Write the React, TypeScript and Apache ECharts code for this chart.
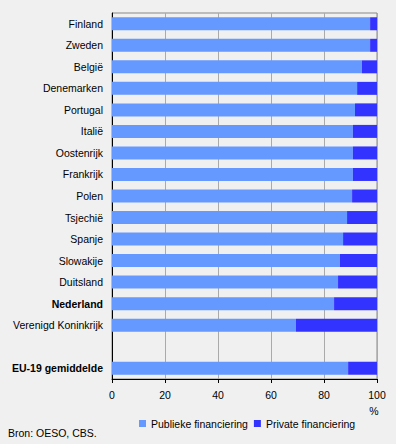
import React, { useEffect, useRef } from "react";
import * as echarts from "echarts";

const categories = [
  "Finland", "Zweden", "België", "Denemarken", "Portugal", "Italië", "Oostenrijk",
  "Frankrijk", "Polen", "Tsjechië", "Spanje", "Slowakije", "Duitsland", "Nederland",
  "Verenigd Koninkrijk", "", "EU-19 gemiddelde",
];
const publiek = [97.4, 97.4, 94.3, 92.5, 91.7, 90.9, 90.9, 90.9, 90.6, 88.7, 87.2, 86.0, 85.3, 83.8, 69.4, null, 89.1];
const privaat = [2.6, 2.6, 5.7, 7.5, 8.3, 9.1, 9.1, 9.1, 9.4, 11.3, 12.8, 14.0, 14.7, 16.2, 30.6, null, 10.9];
const boldLabels = ["Nederland", "EU-19 gemiddelde"];
const xTicks = { min: 0, max: 100, interval: 20 };

const FONT = "'Liberation Sans', Arial, sans-serif";
const FS = 10.5;

export default function App() {
  const ref = useRef<HTMLDivElement>(null);
  useEffect(() => {
    if (!ref.current) return;
    const chart = echarts.init(ref.current, null, { renderer: "svg" });
    chart.setOption({
      animation: false,
      backgroundColor: "#f0f0f0",
      textStyle: { fontFamily: FONT, fontSize: FS, color: "#000" },
      grid: {
        left: 112, right: 19, top: 13, bottom: 65,
        outerBoundsMode: "none",
        show: true, borderColor: "#888888", borderWidth: 1, backgroundColor: "transparent",
      },
      legend: {
        left: 134, top: 413,
        itemWidth: 7, itemHeight: 7, itemGap: 6,
        icon: "rect",
        textStyle: { fontFamily: FONT, fontSize: FS, color: "#000" },
        data: ["Publieke financiering", "Private financiering"],
      },
      xAxis: {
        type: "value",
        min: xTicks.min, max: xTicks.max, interval: xTicks.interval,
        axisLine: { show: true, lineStyle: { color: "#000", width: 1 } },
        axisTick: { show: true, length: 4, lineStyle: { color: "#000" } },
        axisLabel: { color: "#000", fontFamily: FONT, fontSize: FS, margin: 10 },
        splitLine: { show: true, lineStyle: { color: "#aaaaaa", width: 1 } },
      },
      yAxis: {
        type: "category",
        inverse: true,
        data: categories,
        axisLine: { show: true, lineStyle: { color: "#000", width: 1 } },
        axisTick: { show: false },
        axisLabel: {
          color: "#000", fontFamily: FONT, fontSize: FS, margin: 9,
          formatter: (v: string) => (boldLabels.includes(v) ? `{b|${v}}` : v),
          rich: { b: { fontWeight: "bold", fontFamily: FONT, fontSize: FS, color: "#000" } },
        },
      },
      graphic: [
        { type: "text", x: 374, y: 411, style: { text: "%", fontFamily: FONT, fontSize: FS, fill: "#000", align: "center", verticalAlign: "middle" } },
        { type: "text", x: 8, y: 433, style: { text: "Bron: OESO, CBS.", fontFamily: FONT, fontSize: FS, fill: "#000", align: "left", verticalAlign: "middle" } },
      ],
      series: [
        {
          name: "Publieke financiering", type: "bar", stack: "s", barWidth: 13,
          itemStyle: { color: "#6699ff" }, data: publiek,
        },
        {
          name: "Private financiering", type: "bar", stack: "s", barWidth: 13,
          itemStyle: { color: "#3333ff" }, data: privaat,
        },
      ],
    });
    return () => chart.dispose();
  }, []);
  return <div ref={ref} style={{ position: "fixed", left: 0, top: 0, width: 396, height: 444 }} />;
}
